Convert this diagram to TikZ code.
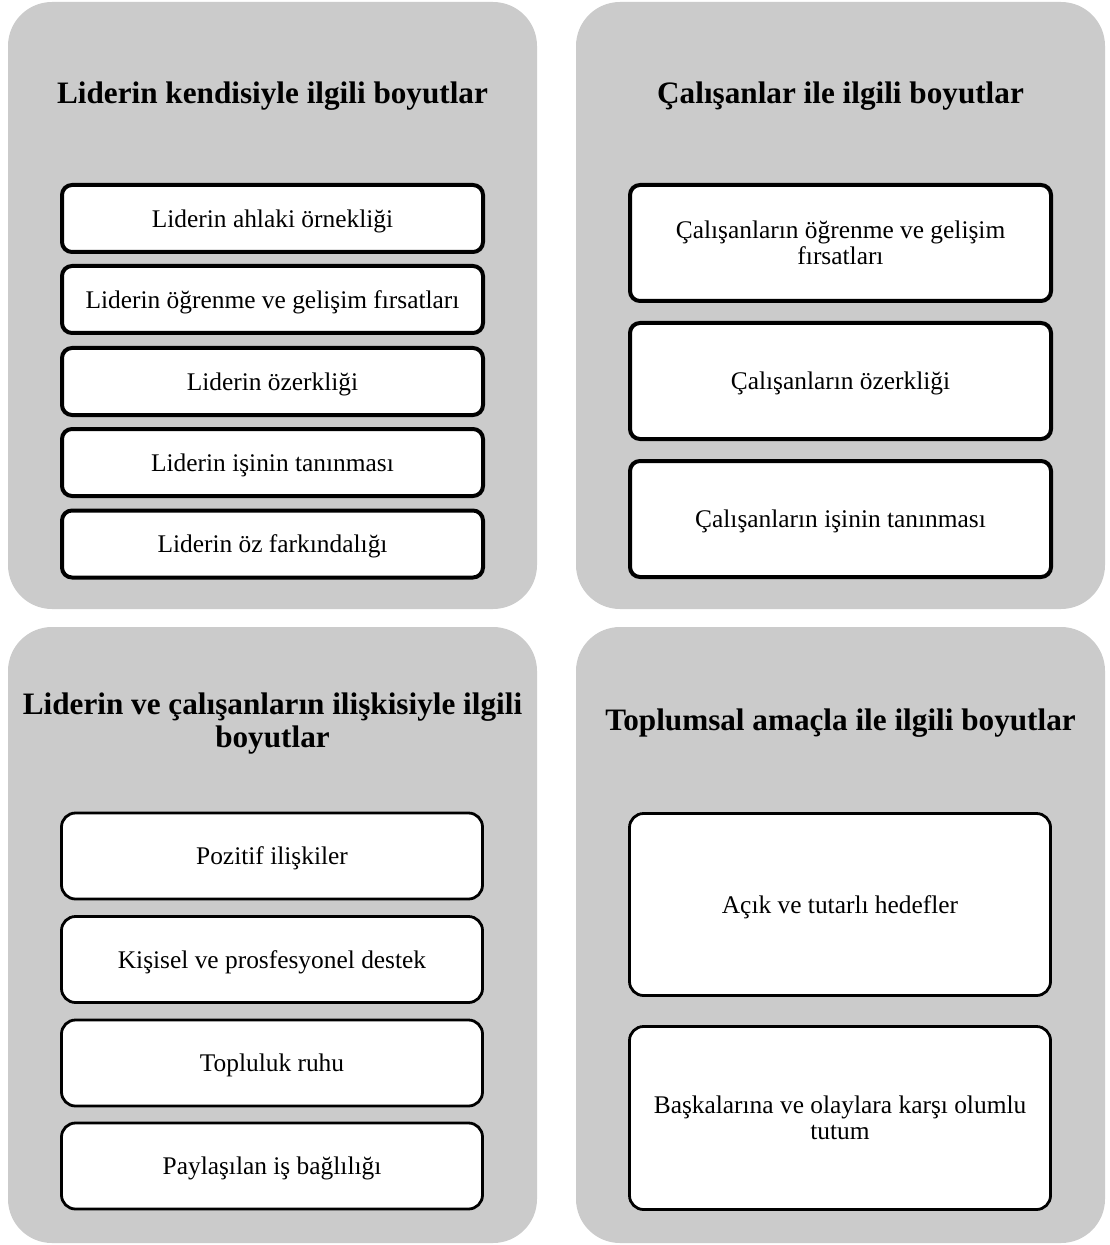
\documentclass[tikz,border=0pt]{standalone}
\usepackage{fontspec}
\setmainfont{Liberation Serif}
\definecolor{panelgray}{RGB}{203,203,203}
\begin{document}
\begin{tikzpicture}[x=0.5pt,y=-0.5pt,
    panel/.style={fill=panelgray,rounded corners=22pt,minimum width=264.5pt,inner sep=0pt},
    baslik/.style={font=\fontsize{15.6}{16.2}\selectfont\bfseries,align=center},
    kutu/.style={draw,fill=white,line width=2pt,rounded corners=5pt,minimum width=210.5pt,
      inner sep=0pt,text depth=0pt,align=center,font=\fontsize{12.7}{13}\selectfont},
    altkutu/.style={kutu,line width=1.4pt,rounded corners=7pt}]
  \useasboundingbox (0,0) rectangle (1109,1245);
  % dort panel
  \node[panel,minimum height=303.5pt] (p1) at (272.5,305.5) {};
  \node[panel,minimum height=303.5pt] (p2) at (840.5,305.5) {};
  \node[panel,minimum height=308pt] (p3) at (272.5,935) {};
  \node[panel,minimum height=308pt] (p4) at (840.5,935) {};
  % basliklar
  \node[baslik] (b1) at (272.5,96) {Liderin kendisiyle ilgili boyutlar};
  \node[baslik] (b2) at (840.5,96) {Çalışanlar ile ilgili boyutlar};
  \node[baslik] (b3) at (272.5,723.5) {Liderin ve çalışanların ilişkisiyle ilgili\\boyutlar};
  \node[baslik] (b4) at (840.5,723.5) {Toplumsal amaçla ile ilgili boyutlar};
  % liderin kendisi
  \node[kutu,minimum height=33.5pt] (k1) at (272.5,218.5) {Liderin ahlaki örnekliği};
  \node[kutu,minimum height=33.5pt] (k2) at (272.5,299.5) {Liderin öğrenme ve gelişim fırsatları};
  \node[kutu,minimum height=33.5pt] (k3) at (272.5,381.5) {Liderin özerkliği};
  \node[kutu,minimum height=33.5pt] (k4) at (272.5,462.5) {Liderin işinin tanınması};
  \node[kutu,minimum height=33.5pt] (k5) at (272.5,544) {Liderin öz farkındalığı};
  % calisanlar
  \node[kutu,minimum height=58pt] (c1) at (840.5,243) {Çalışanların öğrenme ve gelişim\\fırsatları};
  \node[kutu,minimum height=58pt] (c2) at (840.5,381) {Çalışanların özerkliği};
  \node[kutu,minimum height=58pt] (c3) at (840.5,519) {Çalışanların işinin tanınması};
  % iliski
  \node[altkutu,minimum height=43pt] (i1) at (272,856) {Pozitif ilişkiler};
  \node[altkutu,minimum height=43pt] (i2) at (272,959.5) {Kişisel ve prosfesyonel destek};
  \node[altkutu,minimum height=43pt] (i3) at (272,1063) {Topluluk ruhu};
  \node[altkutu,minimum height=43pt] (i4) at (272,1166) {Paylaşılan iş bağlılığı};
  % toplumsal amac
  \node[altkutu,minimum height=91pt] (t1) at (840,904.5) {Açık ve tutarlı hedefler};
  \node[altkutu,minimum height=91.5pt] (t2) at (840,1118) {Başkalarına ve olaylara karşı olumlu\\tutum};
\end{tikzpicture}
\end{document}
